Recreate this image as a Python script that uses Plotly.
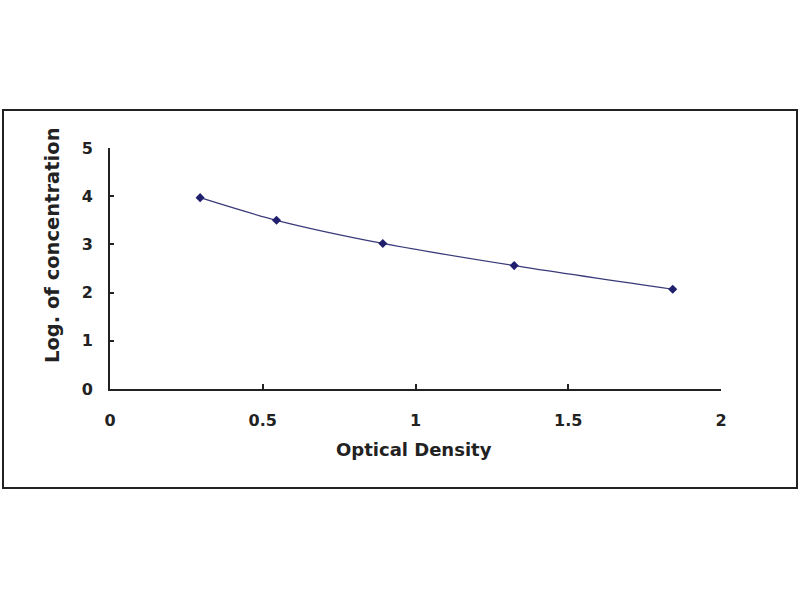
import plotly.graph_objects as go

# Data
optical_density = [0.295, 0.545, 0.893, 1.323, 1.842]
log_concentration = [3.97, 3.50, 3.02, 2.56, 2.07]

x_ticks = [0, 0.5, 1, 1.5, 2]
x_tick_labels = ["0", "0.5", "1", "1.5", "2"]
y_ticks = [0, 1, 2, 3, 4, 5]
y_tick_labels = ["0", "1", "2", "3", "4", "5"]

x_title = "Optical Density"
y_title = "Log. of concentration"

navy = "#1f1f6e"
ink = "#222222"
font_family = "DejaVu Sans, Liberation Sans, Arial, sans-serif"

fig = go.Figure()
fig.add_trace(go.Scatter(
    x=optical_density,
    y=log_concentration,
    mode="lines+markers",
    line=dict(color="#3a3a7a", width=1.2, shape="spline", smoothing=0.8),
    marker=dict(symbol="diamond", size=7, color=navy),
    showlegend=False,
))

L, R, T, B = 110, 79, 148, 211
pw = 800 - L - R
ph = 600 - T - B

def px_x(p):
    return (p - L) / pw

def px_y(p):
    return (600 - B - p) / ph

fig.add_shape(
    type="rect", xref="paper", yref="paper",
    x0=px_x(3), x1=px_x(797), y0=px_y(488), y1=px_y(110),
    line=dict(color=ink, width=2), fillcolor="rgba(0,0,0,0)",
    layer="below",
)

fig.add_annotation(
    text="<b>" + x_title + "</b>", xref="paper", yref="paper",
    x=px_x(414), y=px_y(449), showarrow=False,
    xanchor="center", yanchor="middle",
    font=dict(family=font_family, size=18, color=ink),
)
fig.add_annotation(
    text="<b>" + y_title + "</b>", xref="paper", yref="paper",
    x=px_x(52), y=px_y(245), showarrow=False, textangle=-90,
    xanchor="center", yanchor="middle",
    font=dict(family=font_family, size=19.5, color=ink),
)

fig.update_layout(
    width=800, height=600,
    margin=dict(l=L, r=R, t=T, b=B),
    paper_bgcolor="white", plot_bgcolor="white",
    font=dict(family=font_family, size=16, color=ink),
    xaxis=dict(
        range=[0, 2], tickvals=x_ticks, ticktext=x_tick_labels,
        ticks="inside", ticklen=5, tickwidth=2, tickcolor=ink,
        showline=True, linecolor=ink, linewidth=2,
        showgrid=False, zeroline=False,
        ticklabelstandoff=16,
        tickfont=dict(family=font_family, size=16, color=ink, weight="bold"),
    ),
    yaxis=dict(
        range=[0, 5], tickvals=y_ticks, ticktext=y_tick_labels,
        ticks="inside", ticklen=4, tickwidth=2, tickcolor=ink,
        showline=True, linecolor=ink, linewidth=2,
        showgrid=False, zeroline=False,
        ticklabelstandoff=12,
        tickfont=dict(family=font_family, size=16, color=ink, weight="bold"),
    ),
)

fig.write_html("out.html", config={"displayModeBar": False},
               post_script="document.body.style.margin='0';")
